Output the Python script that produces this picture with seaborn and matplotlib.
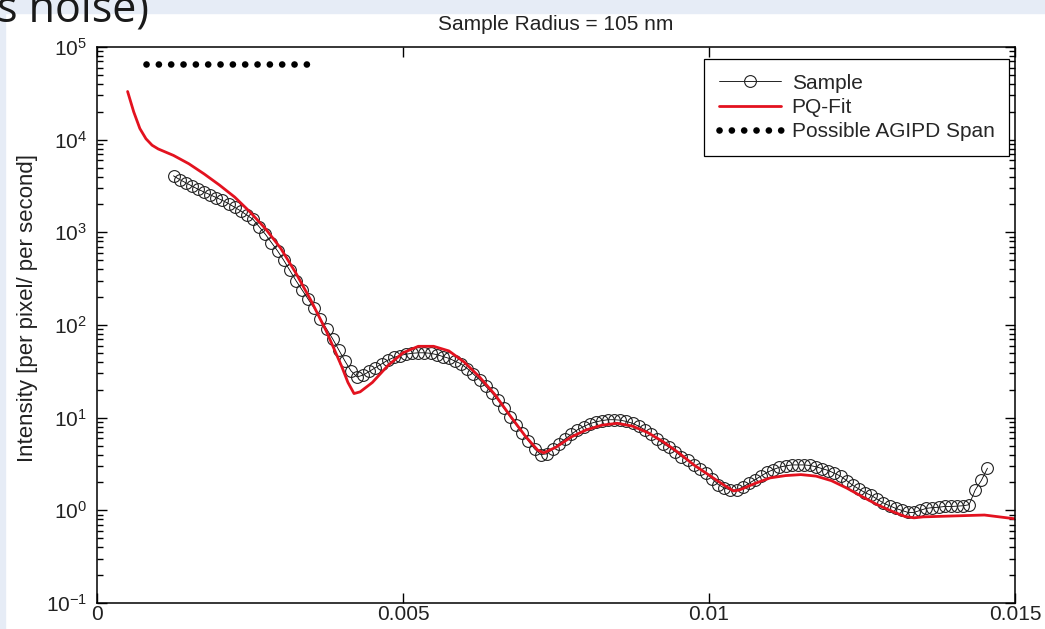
import numpy as np
import pandas as pd
import matplotlib
matplotlib.use("Agg")
import matplotlib.pyplot as plt
import seaborn as sns
from matplotlib.ticker import FixedLocator, FixedFormatter, LogLocator, NullFormatter

# measured sample (scattering vector q, intensity)
sample_q = [0.00125, 0.00135, 0.00145, 0.00155, 0.00165, 0.00175, 0.00185, 0.00195, 0.00205, 0.00215,
            0.00225, 0.00235, 0.00245, 0.00255, 0.00265, 0.00275, 0.00285, 0.00295, 0.00305, 0.00315,
            0.00325, 0.00335, 0.00345, 0.00355, 0.00365, 0.00375, 0.00385, 0.00395, 0.00405, 0.00415,
            0.00425, 0.00435, 0.00445, 0.00455, 0.00465, 0.00475, 0.00485, 0.00495, 0.00505, 0.00515,
            0.00525, 0.00535, 0.00545, 0.00555, 0.00565, 0.00575, 0.00585, 0.00595, 0.00605, 0.00615,
            0.00625, 0.00635, 0.00645, 0.00655, 0.00665, 0.00675, 0.00685, 0.00695, 0.00705, 0.00715,
            0.00725, 0.00735, 0.00745, 0.00755, 0.00765, 0.00775, 0.00785, 0.00795, 0.00805, 0.00815,
            0.00825, 0.00835, 0.00845, 0.00855, 0.00865, 0.00875, 0.00885, 0.00895, 0.00905, 0.00915,
            0.00925, 0.00935, 0.00945, 0.00955, 0.00965, 0.00975, 0.00985, 0.00995, 0.01005, 0.01015,
            0.01025, 0.01035, 0.01045, 0.01055, 0.01065, 0.01075, 0.01085, 0.01095, 0.01105, 0.01115,
            0.01125, 0.01135, 0.01145, 0.01155, 0.01165, 0.01175, 0.01185, 0.01195, 0.01205, 0.01215,
            0.01225, 0.01235, 0.01245, 0.01255, 0.01265, 0.01275, 0.01285, 0.01295, 0.01305, 0.01315,
            0.01325, 0.01335, 0.01345, 0.01355, 0.01365, 0.01375, 0.01385, 0.01395, 0.01405, 0.01415,
            0.01425, 0.01435, 0.01445, 0.01455]
sample_I = [4070, 3715, 3430, 3160, 2920, 2720, 2540, 2370, 2210, 2040,
            1860, 1700, 1530, 1380, 1150, 955, 776, 631, 501, 389,
            302, 240, 191, 151, 117, 91, 71, 54, 41, 32,
            27.5, 28.8, 31.6, 34.7, 38, 41.7, 44.7, 46.8, 48.4, 49.5,
            50.1, 50.1, 49.5, 47.9, 45.7, 43.7, 40.7, 38, 33.9, 29.5,
            25.7, 21.9, 18.6, 15.5, 12.6, 10.2, 8.3, 6.9, 5.6, 4.6,
            4.0, 4.07, 4.6, 5.25, 5.9, 6.6, 7.4, 8.0, 8.6, 9.0,
            9.3, 9.5, 9.5, 9.4, 9.1, 8.7, 8.1, 7.4, 6.6, 5.9,
            5.25, 4.8, 4.3, 3.8, 3.5, 3.1, 2.8, 2.5, 2.2, 1.9,
            1.74, 1.66, 1.66, 1.78, 1.95, 2.14, 2.34, 2.57, 2.75, 2.92,
            3.02, 3.09, 3.09, 3.09, 3.05, 2.95, 2.82, 2.69, 2.51, 2.34,
            2.09, 1.86, 1.70, 1.55, 1.45, 1.32, 1.20, 1.12, 1.05, 1.0,
            0.95, 0.95, 1.0, 1.05, 1.07, 1.08, 1.10, 1.10, 1.11, 1.12,
            1.15, 1.66, 2.1, 2.85]

# PQ fit curve
fit_q = [0.0005, 0.0006, 0.0007, 0.0008, 0.0009, 0.0010, 0.00125, 0.0015, 0.00175, 0.0020,
         0.00225, 0.0025, 0.00275, 0.0030, 0.00325, 0.0035, 0.00375, 0.0040, 0.0041, 0.0042,
         0.0043, 0.0045, 0.00475, 0.0050, 0.00525, 0.0055, 0.00575, 0.0060, 0.00625, 0.0065,
         0.00675, 0.0070, 0.0072, 0.0073, 0.0075, 0.00775, 0.0080, 0.00825, 0.0085, 0.00875,
         0.0090, 0.00925, 0.0095, 0.00975, 0.0100, 0.01025, 0.0104, 0.0105, 0.01075, 0.0110,
         0.01125, 0.0115, 0.01175, 0.0120, 0.01225, 0.0125, 0.01275, 0.0130, 0.0132, 0.01335,
         0.0135, 0.0140, 0.0145, 0.0150]
fit_I = [33100, 19950, 13200, 10230, 8710, 7940, 6760, 5500, 4270, 3240,
         2400, 1660, 1100, 676, 363, 182, 85, 35.5, 24, 18.2,
         19, 24, 36.3, 50.1, 58.9, 58.9, 52.5, 39.8, 27.5, 17.8,
         10.5, 6.3, 4.47, 4.17, 4.8, 6.2, 7.4, 8.3, 8.7, 8.1,
         6.9, 5.5, 4.2, 3.1, 2.4, 1.86, 1.62, 1.66, 1.95, 2.24,
         2.37, 2.43, 2.34, 2.09, 1.74, 1.41, 1.15, 0.97, 0.86, 0.83,
         0.85, 0.87, 0.89, 0.81]

# AGIPD detector span
agipd_q = [0.0008, 0.0035]
agipd_I = [6.5e4, 6.5e4]

xtick_vals = [0, 0.005, 0.01, 0.015]
xtick_labels = ["0", "0.005", "0.01", "0.015"]

sns.set_style("white")
plt.rcParams['font.family'] = ['Liberation Sans', 'DejaVu Sans']
plt.rcParams['mathtext.default'] = 'regular'
plt.rcParams['axes.unicode_minus'] = False

fig = plt.figure(figsize=(10.45, 6.29), dpi=100)
fig.patch.set_facecolor("white")
# slide remnants: light blue band + partial title
fig.patches.append(plt.Rectangle((0, 1 - 13 / 629), 1, 13 / 629, transform=fig.transFigure,
                                 color="#e6ecf6", zorder=0))
fig.patches.append(plt.Rectangle((0, 0), 5 / 1045, 1, transform=fig.transFigure,
                                 color="#e6ecf6", zorder=0))
fig.text(-0.003, 1 - 23 / 629, "s noise)", fontsize=31, family="Open Sans", color="#1a1a1a",
         va="baseline", ha="left")

ax = fig.add_axes([97 / 1045, 26 / 629, 918 / 1045, 556 / 629])

df_sample = pd.DataFrame({"q": sample_q, "I": sample_I})
df_fit = pd.DataFrame({"q": fit_q, "I": fit_I})

sns.lineplot(data=df_sample, x="q", y="I", ax=ax, estimator=None, sort=False, color="black",
             lw=0.6, marker="o", markersize=8.5, markerfacecolor="none", markeredgecolor="#222222",
             markeredgewidth=0.8, label="Sample")
sns.lineplot(data=df_fit, x="q", y="I", ax=ax, estimator=None, sort=False, color="#e3121f",
             lw=2.0, label="PQ-Fit")
sns.lineplot(x=agipd_q, y=agipd_I, ax=ax, estimator=None, color="black", lw=4.8,
             linestyle=(0, (0.01, 1.84)), dash_capstyle="round", label="Possible AGIPD Span")

ax.set_yscale("log")
ax.set_xlim(0, 0.015)
ax.set_ylim(1e-1, 1e5)
ax.xaxis.set_major_locator(FixedLocator(xtick_vals))
ax.xaxis.set_major_formatter(FixedFormatter(xtick_labels))
ax.yaxis.set_major_locator(LogLocator(base=10, numticks=10))
ax.yaxis.set_minor_locator(LogLocator(base=10, subs=np.arange(2, 10), numticks=20))
ax.yaxis.set_minor_formatter(NullFormatter())
ax.tick_params(which="both", direction="in", top=True, right=True, left=True, bottom=True,
               colors="black", labelcolor="#222222", labelsize=15, width=1)
ax.tick_params(which="major", length=7)
ax.tick_params(which="minor", length=4)
ax.tick_params(axis="x", pad=1.5)
ax.tick_params(axis="y", pad=7)
for s in ax.spines.values():
    s.set_linewidth(1.1)
    s.set_color("black")

ax.set_xlabel("")
ax.set_ylabel("Intensity [per pixel/ per second]", fontsize=16, color="#222222")
ax.yaxis.set_label_coords(-0.064, 0.53)
ax.set_title("Sample Radius = 105 nm", fontsize=15, color="#222222", pad=0,
             y=1 + 23 / 556, va="center")

leg = ax.legend(loc="upper right", bbox_to_anchor=(0.9935, 0.9784), borderaxespad=0,
                frameon=True, fancybox=False, framealpha=1, edgecolor="black", fontsize=15,
                handlelength=3.0, labelspacing=0.25, borderpad=0.7, handletextpad=0.5)
leg.get_frame().set_linewidth(0.9)

plt.savefig("out.png", dpi=100)
